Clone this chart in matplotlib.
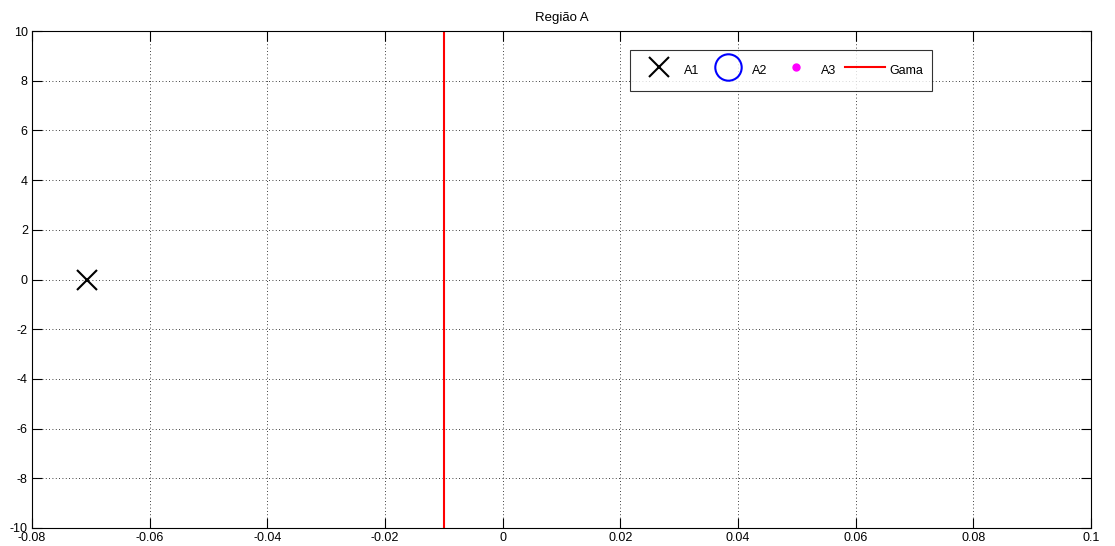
import matplotlib
matplotlib.use("Agg")
import matplotlib.pyplot as plt

plt.rcParams['font.family'] = ['Liberation Sans', 'DejaVu Sans']
plt.rcParams['axes.unicode_minus'] = False

# Data
a1_x = [-0.0707]
a1_y = [0.0]
a2_x = []
a2_y = []
a3_x = []
a3_y = []
gama_x = [-0.01, -0.01]
gama_y = [-10, 10]
title = "Região A"
xticks = [-0.08, -0.06, -0.04, -0.02, 0, 0.02, 0.04, 0.06, 0.08, 0.1]
xticklabels = ["-0.08", "-0.06", "-0.04", "-0.02", "0", "0.02", "0.04", "0.06", "0.08", "0.1"]
yticks = [-10, -8, -6, -4, -2, 0, 2, 4, 6, 8, 10]

fig = plt.figure(figsize=(11.15, 5.46), dpi=100)
ax = fig.add_axes([32/1115, 1-528/546, (1091-32)/1115, (528-31)/546])

ax.plot(a1_x, a1_y, linestyle='none', marker='x', color='black', markersize=15, markeredgewidth=1.5, label='A1')
ax.plot(a2_x, a2_y, linestyle='none', marker='o', markerfacecolor='none', markeredgecolor='blue', markersize=19, markeredgewidth=1.5, label='A2')
ax.plot(a3_x, a3_y, linestyle='none', marker='o', color='magenta', markersize=5, label='A3')
ax.plot(gama_x, gama_y, color='red', linewidth=1.5, label='Gama')

ax.set_xlim(-0.08, 0.1)
ax.set_ylim(-10, 10)
ax.set_xticks(xticks)
ax.set_xticklabels(xticklabels)
ax.set_yticks(yticks)
ax.tick_params(direction='in', top=True, right=True, length=7, labelsize=9, pad=3, width=0.8)
ax.grid(True, linestyle=(0, (1, 3)), color='black', linewidth=0.6)
for s in ax.spines.values():
    s.set_linewidth(0.8)
ax.set_title(title, fontsize=9.5, pad=7)

leg = ax.legend(ncol=4, loc='upper left', bbox_to_anchor=((630-32)/1059, (528-50)/497),
                fontsize=9, frameon=True, fancybox=False, edgecolor='black',
                handlelength=3.2, handleheight=2.4, columnspacing=0.7, handletextpad=0.35,
                borderpad=0.75, borderaxespad=0)
leg.get_frame().set_linewidth(0.8)

fig.savefig('out.png', dpi=100)
